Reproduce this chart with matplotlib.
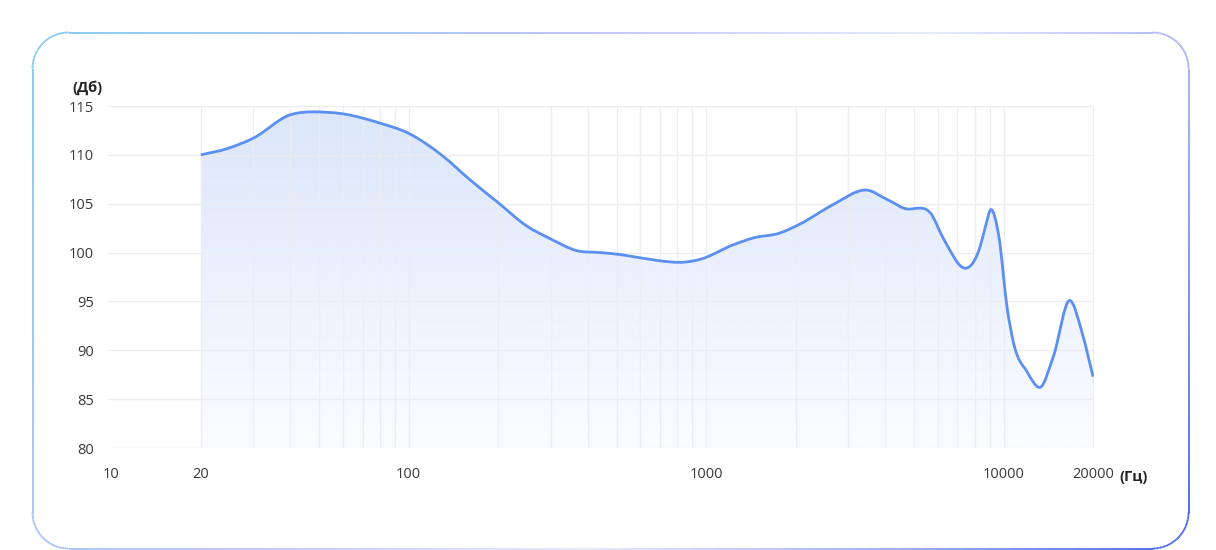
import numpy as np
import matplotlib
matplotlib.use("Agg")
import matplotlib.pyplot as plt
from matplotlib.colors import LinearSegmentedColormap
from matplotlib.collections import LineCollection
from matplotlib.path import Path
from matplotlib.patches import PathPatch

plt.rcParams['font.family'] = ['Open Sans', 'Noto Sans', 'DejaVu Sans']

# frequency response (Hz, dB)
freq = [20, 24.3, 30, 40, 47.6, 60, 79, 100, 130, 160, 200, 250, 300, 367,
        440, 513, 590, 816, 953, 1235, 1443, 1770, 2063, 2670, 3440, 4080,
        4800, 5240, 5660, 6290, 7440, 8360, 8700, 9080, 9640,
        10300, 10800, 12000, 13230, 14720, 16690, 18450, 20000]
level = [110.0, 110.6, 111.7, 114.1, 114.4, 114.2, 113.3, 112.2, 109.9,
         107.5, 105.1, 102.7, 101.4, 100.2, 100.0, 99.8, 99.5, 99.0, 99.3,
         100.8, 101.5, 102.0, 102.9, 104.9, 106.4, 105.4, 104.45, 104.55, 104.1,
         101.4, 98.4, 100.7, 102.7, 104.4, 101.7, 94.2, 90.8,
         87.8, 86.2, 89.4, 95.1, 91.6, 87.3]

x_ticks = [10, 20, 100, 1000, 10000, 20000]
x_labels = ["10", "20", "100", "1000", "10000", "20000"]
y_ticks = [80, 85, 90, 95, 100, 105, 110, 115]


def smooth_path(xs, ys):
    """Cubic Hermite curve through the points (log-x space), flat at extrema."""
    lx = np.log10(xs)
    ys = np.asarray(ys, float)
    h = np.diff(lx)
    d = np.diff(ys) / h
    m = np.empty_like(ys)
    m[0], m[-1] = d[0], d[-1]
    for i in range(1, len(ys) - 1):
        if d[i - 1] * d[i] <= 0:
            m[i] = 0.0
        else:
            m[i] = (d[i - 1] * h[i] + d[i] * h[i - 1]) / (h[i - 1] + h[i])
    verts = [(xs[0], ys[0])]
    codes = [Path.MOVETO]
    for i in range(len(ys) - 1):
        c1 = (10 ** (lx[i] + h[i] / 3), ys[i] + m[i] * h[i] / 3)
        c2 = (10 ** (lx[i + 1] - h[i] / 3), ys[i + 1] - m[i + 1] * h[i] / 3)
        verts += [c1, c2, (xs[i + 1], ys[i + 1])]
        codes += [Path.CURVE4] * 3
    return verts, codes


W, H = 1216, 550
fig = plt.figure(figsize=(W / 100, H / 100), dpi=100)

# rounded gradient frame, drawn in pixel coords
bg = fig.add_axes([0, 0, 1, 1])
bg.set_xlim(0, W)
bg.set_ylim(H, 0)
bg.axis("off")
x0, y0, x1, y1, r = 32.5, 32.5, 1188.5, 548.5, 36
pts = []
for cx, cy, a0 in [(x1 - r, y0 + r, -90), (x1 - r, y1 - r, 0), (x0 + r, y1 - r, 90), (x0 + r, y0 + r, 180)]:
    a = np.radians(np.linspace(a0, a0 + 90, 40))
    pts += list(zip(cx + r * np.cos(a), cy + r * np.sin(a)))
pts.append(pts[0])
pts = np.array(pts)
dense = [pts[0]]
for p, q in zip(pts[:-1], pts[1:]):
    n = max(2, int(np.hypot(*(q - p)) / 4))
    for t in np.linspace(0, 1, n)[1:]:
        dense.append(p + (q - p) * t)
dense = np.array(dense)
segs = np.stack([dense[:-1], dense[1:]], axis=1)
mid = segs.mean(axis=1)
tpos = ((mid[:, 0] - x0) / (x1 - x0) + 0.3 * (mid[:, 1] - y0) / (y1 - y0)) / 1.3
frame_cmap = LinearSegmentedColormap.from_list(
    "frame", [(0, "#7cc8f8"), (0.35, "#b5bffa"), (0.6, "#e4eafc"), (0.8, "#9aaaf7"), (1.0, "#3e5cef")])
bg.add_collection(LineCollection(segs, colors=frame_cmap(tpos), linewidths=1.3))

# main chart
ax = fig.add_axes([108 / W, (H - 448) / H, (1094 - 108) / W, (448 - 106) / H])
ax.set_xscale("log")
ax.set_xlim(9.75, 20150)
ax.set_ylim(80, 115)

grid_c = "#ebedf2"
for v in y_ticks:
    ax.axhline(v, color=grid_c, lw=1.0, zorder=2)
vgrid = [m * 10 ** e for e in (1, 2, 3) for m in range(2, 10)] + [100, 1000, 10000, 20000]
for v in vgrid:
    ax.axvline(v, color=grid_c, lw=1.0, zorder=2, alpha=0.9)

verts, codes = smooth_path(freq, level)

# gradient fill under the curve
area = Path(verts + [(freq[-1], 80), (freq[0], 80), (freq[0], level[0])],
            codes + [Path.LINETO, Path.LINETO, Path.CLOSEPOLY])
area_patch = PathPatch(area, facecolor="none", edgecolor="none", transform=ax.transData)
ax.add_patch(area_patch)
fill_cmap = LinearSegmentedColormap.from_list("fill", ["#fbfcff", "#dbe6fa"])
grad = np.linspace(0, 1, 256).reshape(-1, 1)
img = ax.imshow(grad, extent=[20, 20000, 80, 115], origin="lower", aspect="auto",
                cmap=fill_cmap, zorder=1, interpolation="bilinear")
img.set_clip_path(area_patch)

ax.add_patch(PathPatch(Path(verts, codes), facecolor="none", edgecolor="#5b8ff0",
                       lw=2.0, zorder=3, transform=ax.transData))

ax.set_xlim(9.75, 20150)
ax.set_ylim(80, 115)
for s in ax.spines.values():
    s.set_visible(False)
ax.set_xticks(x_ticks)
ax.set_xticklabels(x_labels)
ax.xaxis.set_minor_locator(plt.NullLocator())
ax.set_yticks(y_ticks)
ax.tick_params(length=0, labelsize=10.5, colors="#3a3a3a")
ax.tick_params(axis="x", pad=14)
ax.tick_params(axis="y", pad=10)

fig.text(72 / W, 1 - 88 / H, "(Дб)", fontsize=10.5, fontweight="bold", color="#222222",
         ha="left", va="center")
fig.text(1119 / W, 1 - 477 / H, "(Гц)", fontsize=10.5, fontweight="bold", color="#222222",
         ha="left", va="center")

fig.savefig("out.png", dpi=100)
